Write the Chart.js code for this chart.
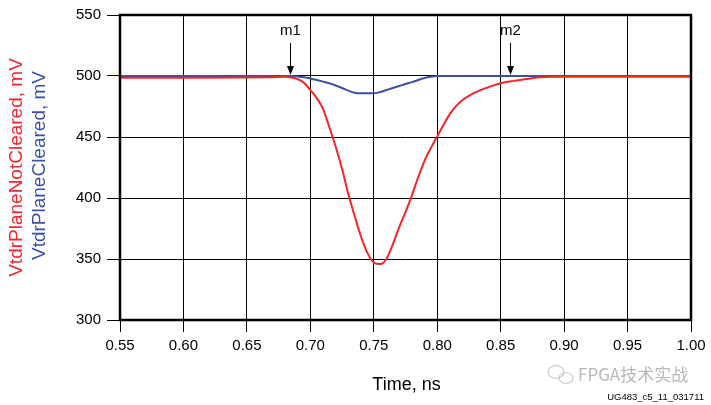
<!DOCTYPE html>
<html><head><meta charset="utf-8">
<script src="https://cdn.jsdelivr.net/npm/chart.js@4.4.1/dist/chart.umd.min.js"></script>
<style>html,body{margin:0;padding:0;background:#fff}#wrap{width:711px;height:405px;position:relative}</style>
</head><body><div id="wrap"><canvas id="c" width="711" height="405"></canvas></div>
<script>
const times = [0.55,0.60,0.65,0.67,0.68,0.685,0.69,0.695,0.70,0.705,0.71,0.715,0.72,0.725,0.73,0.735,0.74,0.745,0.75,0.755,0.76,0.765,0.77,0.775,0.78,0.785,0.79,0.795,0.80,0.805,0.81,0.815,0.82,0.825,0.83,0.835,0.84,0.85,0.86,0.87,0.88,0.89,0.90,0.95,1.00];
const notCleared = [498.5,498.5,498.7,499,499.3,498.8,497.5,494.5,488.5,482,473,458,442,424,403,385,368,355,347,345.8,350,362,376,388.5,402,417,430.5,441,450.5,460,469,475.5,480.3,483.7,486.5,488.8,490.7,494.1,496,497.5,499,499.4,499.4,499.4,499.4];
const cleared = [500,500,500,500,500,500,499.6,499,498,496.7,495.4,494,492.2,490.2,488,486.3,485.8,485.8,485.8,486.8,488.5,490.2,491.8,493.5,495,496.7,498.3,499.4,500,500,500,500,500,500,500,500,500,500,500,500,500,500,500,500,500];
const xTicks = [0.55,0.60,0.65,0.70,0.75,0.80,0.85,0.90,0.95,1.00];
const yTicks = [300,350,400,450,500,550];
const markerTimes = [0.684,0.8575];
const markerLabels = ['m1','m2'];
const seriesNames = ['VtdrPlaneNotCleared, mV','VtdrPlaneCleared, mV'];
const xTitle = 'Time, ns';
const watermark = 'FPGA技术实战';
const figId = 'UG483_c5_11_031711';

const RED = '#f2242c', BLUE = '#3b4fa3';
const FONT = '"Liberation Sans", Arial, Helvetica, sans-serif';

const toPts = (ys) => times.map((t,i)=>({x:t,y:ys[i]}));

const deco = {
  id:'deco',
  afterDraw(chart){
    const {ctx, chartArea:a, scales:{x,y}} = chart;
    ctx.save();
    // frame
    ctx.strokeStyle='#000'; ctx.lineWidth=2.5;
    ctx.strokeRect(a.left, a.top, a.right-a.left, a.bottom-a.top);
    // markers
    ctx.fillStyle='#000'; ctx.strokeStyle='#000'; ctx.lineWidth=1;
    ctx.font='15px '+FONT; ctx.textAlign='center'; ctx.textBaseline='middle';
    markerTimes.forEach((t,i)=>{
      const px = Math.round(x.getPixelForValue(t))+0.5;
      const py = y.getPixelForValue(500);
      ctx.beginPath(); ctx.moveTo(px, py-33); ctx.lineTo(px, py-4); ctx.stroke();
      ctx.beginPath(); ctx.moveTo(px-3.5, py-10); ctx.lineTo(px+3.5, py-10); ctx.lineTo(px, py-1); ctx.closePath(); ctx.fill();
      ctx.fillText(markerLabels[i], px, py-45);
    });
    // y titles
    const cy = (a.top+a.bottom)/2;
    ctx.font='19px '+FONT;
    ctx.save(); ctx.translate(17, cy); ctx.rotate(-Math.PI/2);
    ctx.fillStyle=RED; ctx.fillText(seriesNames[0],0,0); ctx.restore();
    ctx.save(); ctx.translate(40, cy-2); ctx.rotate(-Math.PI/2);
    ctx.fillStyle=BLUE; ctx.fillText(seriesNames[1],0,0); ctx.restore();
    // x title
    ctx.fillStyle='#000'; ctx.font='18px '+FONT;
    ctx.fillText(xTitle, (a.left+a.right)/2 + 1, 385);
    // watermark
    ctx.fillStyle='#b8b8b8'; ctx.font='17px "Noto Sans CJK SC", '+FONT; ctx.textAlign='left';
    ctx.fillText(watermark, 578, 375);
    ctx.strokeStyle='#c8c8c8'; ctx.lineWidth=1.2;
    ctx.beginPath(); ctx.ellipse(556,372,8,6.5,0,0,Math.PI*2); ctx.stroke();
    ctx.beginPath(); ctx.ellipse(566,378,7,5.5,0,0,Math.PI*2); ctx.stroke();
    ctx.fillStyle='#000'; ctx.font='9.5px '+FONT; ctx.textAlign='right';
    ctx.fillText(figId, 704, 397);
    ctx.restore();
  }
};

new Chart(document.getElementById('c'), {
  type:'line',
  data:{datasets:[
    {label:seriesNames[0], data:toPts(notCleared), borderColor:RED, borderWidth:2, pointRadius:0, cubicInterpolationMode:'monotone', order:1},
    {label:seriesNames[1], data:toPts(cleared), borderColor:BLUE, borderWidth:2, pointRadius:0, cubicInterpolationMode:'monotone', order:2}
  ]},
  options:{
    responsive:false, animation:false, devicePixelRatio:1,
    layout:{padding:{top:14,right:20,left:0,bottom:0}},
    plugins:{legend:{display:false}, tooltip:{enabled:false}},
    scales:{
      x:{type:'linear', min:0.55, max:1.00,
        afterBuildTicks(s){ s.ticks = xTicks.map(v=>({value:v})); },
        afterFit(s){ s.height = 85; },
        grid:{color:'#000', lineWidth:1, tickLength:12, drawTicks:true},
        border:{display:false},
        ticks:{color:'#000', padding:5, maxRotation:0, font:{size:15, family:FONT}, callback:(v)=>Number(v).toFixed(2)}
      },
      y:{type:'linear', min:300, max:550,
        afterBuildTicks(s){ s.ticks = yTicks.map(v=>({value:v})); },
        afterFit(s){ s.width = 120; },
        grid:{color:'#000', lineWidth:1, tickLength:13, drawTicks:true},
        border:{display:false},
        ticks:{color:'#000', padding:6, font:{size:15, family:FONT}}
      }
    }
  },
  plugins:[deco]
});
</script></body></html>
